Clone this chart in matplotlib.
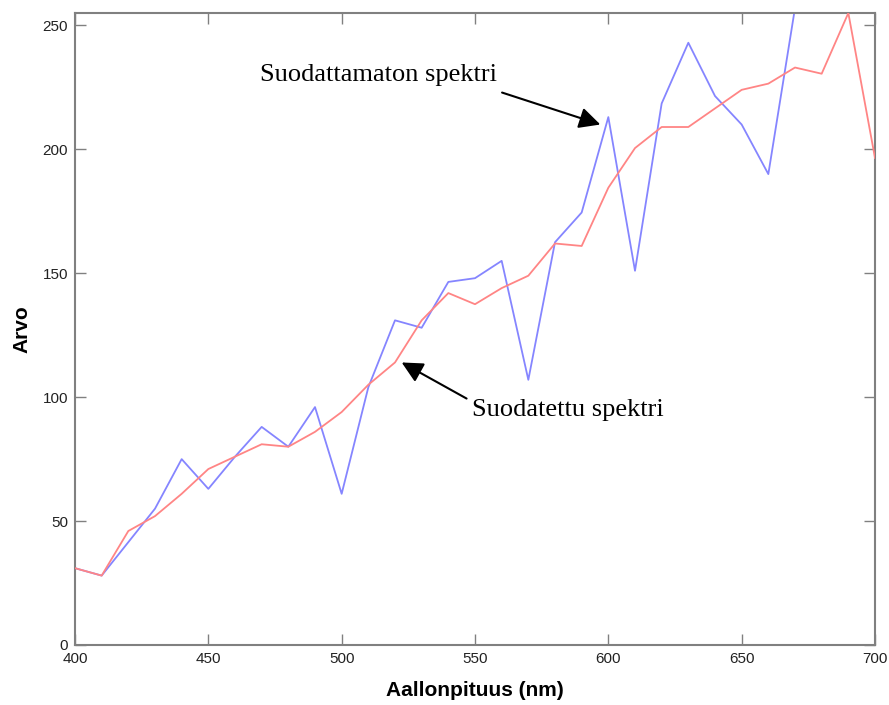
import matplotlib
matplotlib.use("Agg")
import matplotlib.pyplot as plt

# Wavelengths (nm) sampled every 10 nm
wavelength = [400, 410, 420, 430, 440, 450, 460, 470, 480, 490,
              500, 510, 520, 530, 540, 550, 560, 570, 580, 590,
              600, 610, 620, 630, 640, 650, 660, 670, 680, 690, 700]

# Raw (unfiltered) spectrum
raw_spectrum = [31, 28, 41.5, 55, 75, 63, 76, 88, 80, 96,
                61, 104, 131, 128, 146.5, 148, 155, 107, 162.5, 174.5,
                213, 151, 218.5, 243, 221.5, 210, 190, 257, 268, 275, 262]

# Filtered spectrum
filtered_spectrum = [31, 28, 46, 52, 61, 71, 76, 81, 80, 86,
                     94, 105, 114, 131, 142, 137.5, 144, 149, 162, 161,
                     184.5, 200.5, 209, 209, 216.5, 224, 226.5, 233, 230.5, 255, 196.5]

x_ticks = [400, 450, 500, 550, 600, 650, 700]
y_ticks = [0, 50, 100, 150, 200, 250]

label_font = ["Liberation Sans Narrow", "Liberation Sans", "DejaVu Sans"]
serif_font = ["Liberation Serif", "DejaVu Serif"]

fig = plt.figure(figsize=(8.89, 7.05), dpi=100)
ax = fig.add_axes([75 / 889, 60 / 705, 800 / 889, 632 / 705])

ax.plot(wavelength, raw_spectrum, color="#8585ff", lw=1.3, zorder=2)
ax.plot(wavelength, filtered_spectrum, color="#ff8585", lw=1.3, zorder=3)

ax.set_xlim(400, 700)
ax.set_ylim(0, 255)
ax.set_xticks(x_ticks)
ax.set_yticks(y_ticks)

for side in ax.spines.values():
    side.set_color("#808080")
    side.set_linewidth(1.5)

ax.tick_params(direction="in", length=8, width=1, color="#808080",
               top=True, right=True, labelsize=11, pad=5)
for lbl in ax.get_xticklabels() + ax.get_yticklabels():
    lbl.set_family(label_font)
    lbl.set_color("#222222")

ax.set_xlabel("Aallonpituus (nm)", fontsize=15, fontweight="bold",
              family=label_font, labelpad=11)
ax.set_ylabel("Arvo", fontsize=15, fontweight="bold",
              family=label_font, labelpad=8)

arrow_style = dict(arrowstyle="-|>", color="black", lw=1.5,
                   mutation_scale=32, shrinkA=0, shrinkB=0)

ax.annotate("Suodattamaton spektri", xy=(597, 210), xytext=(469.5, 230),
            fontsize=19, family=serif_font, va="center", ha="left",
            arrowprops=dict(arrow_style, relpos=(1.02, -0.3)))

ax.annotate("Suodatettu spektri", xy=(522.5, 114), xytext=(549, 95),
            fontsize=19, family=serif_font, va="center", ha="left",
            arrowprops=dict(arrow_style, relpos=(-0.03, 1.0)))

fig.savefig("out.png", dpi=100)
